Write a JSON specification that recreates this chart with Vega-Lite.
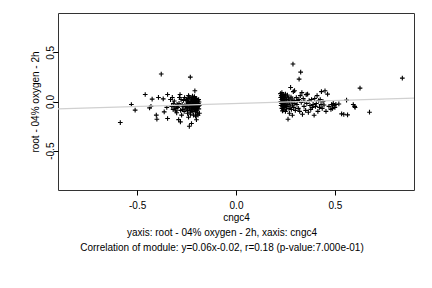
{
  "$schema": "https://vega.github.io/schema/vega-lite/v6.json",
  "width": 356,
  "height": 177,
  "autosize": "none",
  "padding": {"left": 58, "top": 13, "right": 18, "bottom": 98},
  "background": "white",
  "config": {
    "font": "Liberation Sans",
    "view": {"stroke": "#333333", "strokeWidth": 1},
    "axis": {"grid": false, "domain": false, "tickColor": "#000000", "tickSize": 5, "labelColor": "#000000", "labelFontSize": 10, "titleFontSize": 10, "titleFontWeight": "normal", "titleColor": "#000000", "labelFont": "Liberation Sans", "titleFont": "Liberation Sans"}
  },
  "title": {
    "text": ["yaxis: root - 04% oxygen - 2h, xaxis: cngc4", "Correlation of module: y=0.06x-0.02, r=0.18 (p-value:7.000e-01)"],
    "orient": "bottom",
    "anchor": "middle",
    "frame": "bounds",
    "fontSize": 10,
    "fontWeight": "normal",
    "font": "Liberation Sans",
    "color": "#000000",
    "lineHeight": 15,
    "offset": 6
  },
  "datasets": {
    "pts": [
      {"x": -0.585, "y": -0.214}, {"x": -0.529, "y": -0.031}, {"x": -0.51, "y": -0.088}, {"x": -0.459, "y": 0.071}, {"x": -0.437, "y": -0.065}, {"x": -0.43, "y": -0.05}, {"x": -0.424, "y": 0.024}, {"x": -0.403, "y": -0.139}, {"x": -0.4, "y": -0.18}, {"x": -0.392, "y": 0.041}, {"x": -0.378, "y": 0.279}, {"x": -0.368, "y": 0.027}, {"x": -0.363, "y": -0.105}, {"x": -0.346, "y": 0.071}, {"x": -0.346, "y": -0.173}, {"x": -0.331, "y": 0.02}, {"x": -0.322, "y": 0.041}, {"x": -0.317, "y": -0.02}, {"x": -0.31, "y": -0.054}, {"x": -0.303, "y": -0.071}, {"x": -0.298, "y": -0.03}, {"x": -0.292, "y": -0.045}, {"x": -0.286, "y": 0.041}, {"x": -0.283, "y": 0.071}, {"x": -0.29, "y": -0.184}, {"x": -0.281, "y": -0.207}, {"x": -0.275, "y": -0.139}, {"x": -0.269, "y": -0.054}, {"x": -0.265, "y": 0.01}, {"x": -0.262, "y": -0.1}, {"x": -0.231, "y": 0.248}, {"x": -0.208, "y": 0.109}, {"x": -0.225, "y": -0.224}, {"x": -0.236, "y": -0.252}, {"x": -0.2, "y": -0.185}, {"x": -0.205, "y": -0.15}, {"x": -0.192, "y": -0.14}, {"x": -0.199, "y": -0.075}, {"x": -0.245, "y": -0.12}, {"x": -0.24, "y": -0.16}, {"x": -0.255, "y": -0.05}, {"x": -0.252, "y": 0.02},
      {"x": -0.325, "y": -0.05}, {"x": -0.318, "y": -0.08}, {"x": -0.312, "y": 0.005}, {"x": -0.305, "y": -0.095}, {"x": -0.295, "y": -0.06}, {"x": -0.288, "y": -0.02}, {"x": -0.28, "y": -0.09}, {"x": -0.278, "y": 0.02}, {"x": -0.272, "y": -0.03}, {"x": -0.268, "y": -0.08}, {"x": -0.3, "y": -0.115}, {"x": -0.35, "y": -0.06},
      {"x": -0.25, "y": -0.03}, {"x": -0.248, "y": 0.01}, {"x": -0.246, "y": -0.06}, {"x": -0.244, "y": -0.09}, {"x": -0.242, "y": 0.03}, {"x": -0.24, "y": -0.01}, {"x": -0.238, "y": -0.045}, {"x": -0.236, "y": 0.045}, {"x": -0.235, "y": -0.075}, {"x": -0.233, "y": -0.02}, {"x": -0.232, "y": 0.015}, {"x": -0.23, "y": -0.11}, {"x": -0.229, "y": -0.05}, {"x": -0.228, "y": 0.0}, {"x": -0.226, "y": -0.035}, {"x": -0.225, "y": 0.025}, {"x": -0.224, "y": -0.065}, {"x": -0.223, "y": -0.085}, {"x": -0.222, "y": -0.015}, {"x": -0.221, "y": 0.04}, {"x": -0.22, "y": -0.045}, {"x": -0.219, "y": 0.005}, {"x": -0.218, "y": -0.1}, {"x": -0.217, "y": -0.03}, {"x": -0.216, "y": 0.02}, {"x": -0.215, "y": -0.055}, {"x": -0.214, "y": -0.01}, {"x": -0.213, "y": -0.07}, {"x": -0.212, "y": 0.035}, {"x": -0.211, "y": -0.04}, {"x": -0.21, "y": -0.02}, {"x": -0.209, "y": 0.01}, {"x": -0.208, "y": -0.08}, {"x": -0.207, "y": -0.005}, {"x": -0.206, "y": -0.05}, {"x": -0.205, "y": 0.025}, {"x": -0.204, "y": -0.03}, {"x": -0.203, "y": -0.06}, {"x": -0.202, "y": 0.0}, {"x": -0.201, "y": -0.09}, {"x": -0.2, "y": -0.015}, {"x": -0.199, "y": 0.03}, {"x": -0.198, "y": -0.045}, {"x": -0.197, "y": -0.025}, {"x": -0.196, "y": 0.015}, {"x": -0.195, "y": -0.065}, {"x": -0.194, "y": -0.11}, {"x": -0.193, "y": -0.035}, {"x": -0.192, "y": 0.005}, {"x": -0.191, "y": -0.05}, {"x": -0.19, "y": -0.02}, {"x": -0.189, "y": 0.02}, {"x": -0.188, "y": -0.075}, {"x": -0.187, "y": -0.005}, {"x": -0.186, "y": -0.04}, {"x": -0.185, "y": -0.12}, {"x": -0.22, "y": 0.055}, {"x": -0.21, "y": 0.05}, {"x": -0.23, "y": -0.13}, {"x": -0.215, "y": -0.14}, {"x": -0.24, "y": 0.06}, {"x": -0.245, "y": -0.005}, {"x": -0.228, "y": -0.095}, {"x": -0.205, "y": -0.105}, {"x": -0.198, "y": -0.13}, {"x": -0.252, "y": -0.075}, {"x": -0.258, "y": -0.04}, {"x": -0.26, "y": 0.04},
      {"x": 0.225, "y": 0.08}, {"x": 0.226, "y": 0.04}, {"x": 0.227, "y": 0.0}, {"x": 0.228, "y": -0.04}, {"x": 0.229, "y": 0.06}, {"x": 0.23, "y": -0.02}, {"x": 0.231, "y": 0.02}, {"x": 0.232, "y": -0.07}, {"x": 0.233, "y": 0.05}, {"x": 0.234, "y": -0.005}, {"x": 0.235, "y": 0.03}, {"x": 0.236, "y": -0.05}, {"x": 0.237, "y": 0.01}, {"x": 0.238, "y": -0.03}, {"x": 0.239, "y": 0.07}, {"x": 0.24, "y": -0.085}, {"x": 0.241, "y": 0.04}, {"x": 0.242, "y": -0.015}, {"x": 0.243, "y": 0.015}, {"x": 0.244, "y": -0.06}, {"x": 0.245, "y": 0.055}, {"x": 0.246, "y": -0.04}, {"x": 0.247, "y": 0.0}, {"x": 0.248, "y": 0.025}, {"x": 0.249, "y": -0.025}, {"x": 0.25, "y": -0.1}, {"x": 0.252, "y": 0.045}, {"x": 0.254, "y": -0.01}, {"x": 0.256, "y": 0.02}, {"x": 0.258, "y": -0.05}, {"x": 0.26, "y": 0.065}, {"x": 0.262, "y": -0.03}, {"x": 0.264, "y": 0.005}, {"x": 0.266, "y": 0.035}, {"x": 0.268, "y": -0.07}, {"x": 0.27, "y": -0.015}, {"x": 0.272, "y": 0.015}, {"x": 0.274, "y": -0.045}, {"x": 0.276, "y": 0.143}, {"x": 0.278, "y": 0.045}, {"x": 0.28, "y": -0.08}, {"x": 0.282, "y": -0.005}, {"x": 0.284, "y": 0.025}, {"x": 0.286, "y": -0.035}, {"x": 0.288, "y": 0.381}, {"x": 0.29, "y": 0.1}, {"x": 0.292, "y": -0.06}, {"x": 0.294, "y": 0.01}, {"x": 0.296, "y": 0.11}, {"x": 0.298, "y": -0.02}, {"x": 0.263, "y": -0.18}, {"x": 0.27, "y": -0.12}, {"x": 0.255, "y": -0.075}, {"x": 0.285, "y": -0.14}, {"x": 0.3, "y": -0.09}, {"x": 0.235, "y": -0.095}, {"x": 0.232, "y": 0.09}, {"x": 0.25, "y": 0.075},
      {"x": 0.305, "y": 0.04}, {"x": 0.308, "y": -0.03}, {"x": 0.312, "y": 0.01}, {"x": 0.315, "y": -0.07}, {"x": 0.318, "y": 0.02}, {"x": 0.319, "y": 0.228}, {"x": 0.322, "y": -0.1}, {"x": 0.325, "y": 0.06}, {"x": 0.327, "y": 0.299}, {"x": 0.33, "y": -0.01}, {"x": 0.333, "y": 0.09}, {"x": 0.336, "y": -0.13}, {"x": 0.34, "y": 0.03}, {"x": 0.344, "y": -0.05}, {"x": 0.348, "y": 0.0}, {"x": 0.352, "y": -0.09}, {"x": 0.355, "y": 0.07}, {"x": 0.358, "y": -0.02}, {"x": 0.362, "y": 0.075}, {"x": 0.366, "y": -0.11}, {"x": 0.37, "y": 0.01}, {"x": 0.374, "y": -0.04}, {"x": 0.378, "y": -0.08}, {"x": 0.382, "y": 0.02}, {"x": 0.386, "y": -0.06}, {"x": 0.39, "y": -0.03}, {"x": 0.395, "y": -0.14}, {"x": 0.398, "y": 0.03}, {"x": 0.402, "y": -0.05}, {"x": 0.406, "y": -0.02}, {"x": 0.41, "y": 0.06}, {"x": 0.414, "y": -0.1}, {"x": 0.418, "y": 0.01}, {"x": 0.422, "y": -0.06}, {"x": 0.426, "y": 0.02}, {"x": 0.43, "y": -0.03}, {"x": 0.432, "y": 0.1}, {"x": 0.436, "y": -0.07}, {"x": 0.44, "y": 0.0}, {"x": 0.445, "y": -0.035}, {"x": 0.45, "y": 0.109}, {"x": 0.455, "y": -0.1}, {"x": 0.463, "y": 0.075}, {"x": 0.47, "y": -0.05}, {"x": 0.48, "y": -0.08}, {"x": 0.484, "y": -0.03}, {"x": 0.488, "y": -0.07}, {"x": 0.492, "y": -0.02}, {"x": 0.496, "y": -0.04}, {"x": 0.5, "y": -0.06}, {"x": 0.505, "y": -0.03}, {"x": 0.52, "y": -0.025}, {"x": 0.534, "y": -0.126}, {"x": 0.545, "y": -0.13}, {"x": 0.559, "y": 0.014}, {"x": 0.564, "y": -0.136}, {"x": 0.593, "y": -0.031}, {"x": 0.6, "y": -0.05}, {"x": 0.602, "y": -0.061}, {"x": 0.627, "y": 0.136}, {"x": 0.675, "y": -0.109}, {"x": 0.841, "y": 0.238}
    ],
    "fit": [
      {"x": -0.9, "y": -0.074},
      {"x": 0.9, "y": 0.034}
    ]
  },
  "layer": [
    {
      "data": {"name": "pts"},
      "mark": {"type": "point", "shape": "M-1,0L1,0M0,-1L0,1", "filled": false, "stroke": "#000000", "strokeWidth": 1.1, "size": 22, "opacity": 1},
      "encoding": {
        "x": {"field": "x", "type": "quantitative", "scale": {"domain": [-0.9, 0.9], "nice": false, "zero": false},
          "axis": {"values": [-0.5, 0, 0.5], "labelExpr": "replace(format(datum.value, '.1f'), '\u2212', '-')", "labelPadding": 5, "title": "cngc4", "titlePadding": 2}},
        "y": {"field": "y", "type": "quantitative", "scale": {"domain": [-0.9, 0.9], "nice": false, "zero": false},
          "axis": {"values": [-0.5, 0, 0.5], "labelExpr": "replace(format(datum.value, '.1f'), '\u2212', '-')", "labelAngle": -90, "labelAlign": "center", "labelBaseline": "alphabetic", "labelPadding": 0, "title": "root - 04% oxygen - 2h", "titlePadding": 5}}
      }
    },
    {
      "data": {"name": "fit"},
      "mark": {"type": "line", "color": "#d0d0d0", "strokeWidth": 1.3, "clip": true},
      "encoding": {
        "x": {"field": "x", "type": "quantitative"},
        "y": {"field": "y", "type": "quantitative"}
      }
    }
  ]
}
